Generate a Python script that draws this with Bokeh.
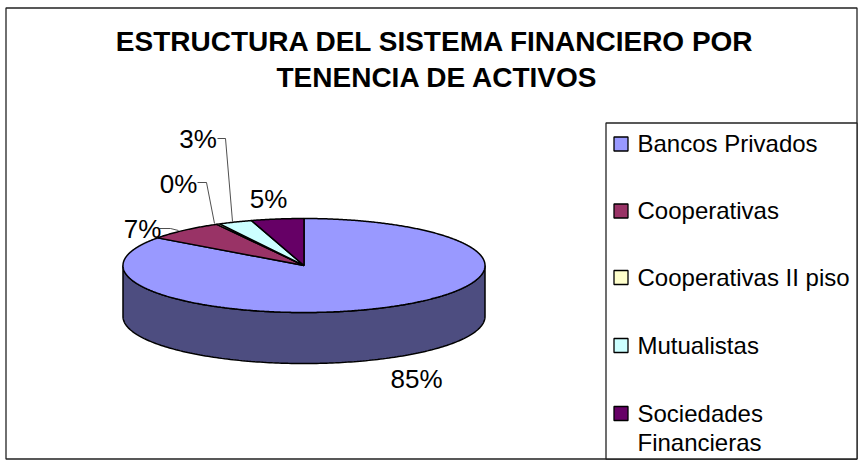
import numpy as np
from bokeh.plotting import figure
from bokeh.models import Range1d
from bokeh.core.properties import value
from bokeh.embed import file_html
from bokeh.resources import INLINE

title_lines = ["ESTRUCTURA DEL SISTEMA FINANCIERO POR", "TENENCIA DE ACTIVOS"]
categories = ["Bancos Privados", "Cooperativas", "Cooperativas II piso", "Mutualistas", "Sociedades Financieras"]
legend_lines = [["Bancos Privados"], ["Cooperativas"], ["Cooperativas II piso"], ["Mutualistas"], ["Sociedades", "Financieras"]]
shares = [85, 7, 0.3, 3, 4.7]
labels = ["85%", "7%", "0%", "3%", "5%"]
colors = ["#9999FF", "#993366", "#FFFFCC", "#CCFFFF", "#660066"]
side_color = "#4D4D80"

FONT = "Liberation Sans"
W, H = 859, 464
p = figure(width=W, height=H, x_range=Range1d(0, W), y_range=Range1d(H, 0),
           output_backend="svg", toolbar_location=None, min_border=0,
           margin=0, background_fill_color="white", border_fill_color="white")
p.axis.visible = False
p.grid.visible = False
p.outline_line_color = None

# chart frame
p.quad(left=[5.5], right=[856.5], top=[7.5], bottom=[458.5], fill_color="white", line_color="#222222", line_width=1.3)

cx, cy, rx, ry, depth = 303.5, 265, 181, 47, 51

def pt(theta):
    return cx + rx * np.sin(theta), cy - ry * np.cos(theta)

# side wall
th = np.radians(np.linspace(90, 270, 181))
xs, ys = pt(th)
p.patch(np.r_[xs, xs[::-1]], np.r_[ys, ys[::-1] + depth], fill_color=side_color, line_color="black", line_width=1.5)

# top wedges, clockwise from 12 o'clock
a0 = 0.0
total = sum(shares)
for s, c in zip(shares, colors):
    a1 = a0 + s / total * 2 * np.pi
    th = np.linspace(a0, a1, max(2, int(s * 8)))
    xs, ys = pt(th)
    p.patch(np.r_[cx, xs], np.r_[cy, ys], fill_color=c, line_color="black", line_width=1.5)
    a0 = a1

# data labels
label_x = [416, 142, 178, 197.5, 268]
label_y = [378, 228, 183, 138, 198]
p.text(label_x, label_y, text=labels, text_font=value(FONT), text_font_size="26px",
       text_align="center", text_baseline="middle", text_color="black")

# leader lines
p.line([197, 206, 214], [182, 182, 223], line_color="#222222", line_width=0.8)
p.line([217, 225, 232], [138, 138, 221], line_color="#222222", line_width=0.8)
p.line([158, 170, 178], [228, 228, 230], line_color="#222222", line_width=0.8)

# title
p.text([435, 437], [41, 77], text=title_lines, text_font=value(FONT), text_font_size="28px",
       text_font_style="bold", text_align="center", text_baseline="middle", text_color="black")

# legend
p.quad(left=[605.5], right=[856.5], top=[122.5], bottom=[458.5], fill_color="white", line_color="#222222", line_width=1.3)
sw_y = [143.5, 210.5, 277, 345, 413]
p.quad(left=[613.5] * 5, right=[627.5] * 5, top=[y - 7 for y in sw_y], bottom=[y + 7 for y in sw_y],
       fill_color=colors, line_color="black", line_width=1.3)
for lines, y in zip(legend_lines, sw_y):
    p.text([637] * len(lines), [y - 0.5 + 29 * i for i in range(len(lines))], text=lines, text_font=value(FONT),
           text_font_size="24px", text_align="left", text_baseline="middle", text_color="black")

open("out.html", "w").write(file_html(p, INLINE))
